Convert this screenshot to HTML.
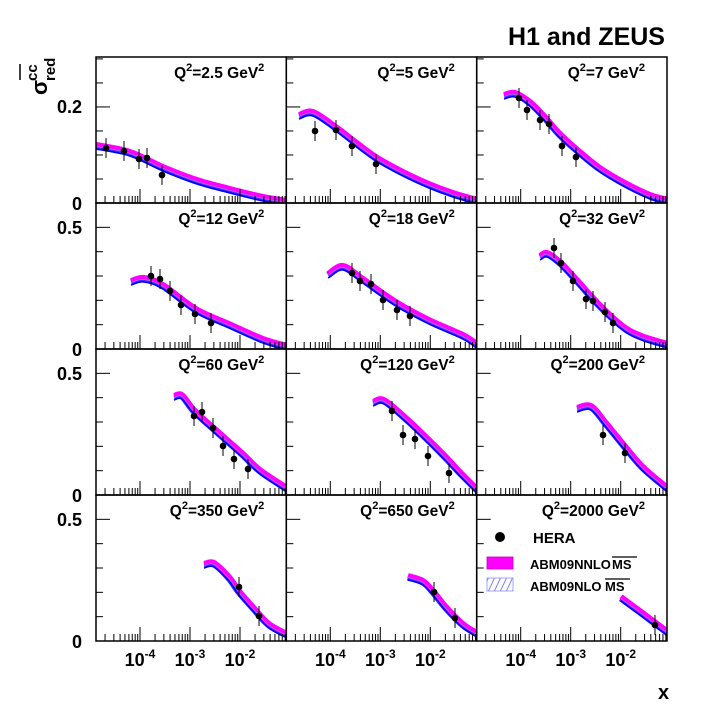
<!DOCTYPE html>
<html><head><meta charset="utf-8"><style>
body{margin:0;background:#fff}
svg text{font-family:"Liberation Sans",sans-serif;font-weight:bold}
</style></head><body>
<svg id="s" width="709" height="709" xmlns="http://www.w3.org/2000/svg">
<defs><pattern id="h" width="6" height="13" patternUnits="userSpaceOnUse" patternTransform="skewX(-25)"><line x1="2" y1="0" x2="2" y2="13" stroke="#5050ff" stroke-width="0.8"/></pattern></defs>
<g id="g"></g>
<text x="665" y="45" font-size="25" text-anchor="end">H1 and ZEUS</text>
<g transform="translate(47,95) rotate(-90)"><text font-size="22" x="0" y="0">σ</text><text font-size="15" x="14" y="-10">cc</text><line x1="15" y1="-27" x2="31" y2="-27" stroke="#000" stroke-width="1.5"/><text font-size="15" x="14" y="8">red</text></g>
<text x="658" y="699" font-size="20">x</text>
</svg>
<script>
const g=document.getElementById('g');let h='';
const X=[96,286.3,476.7,667],Y=[57,203,349,495,641];
const Q=['2.5','5','7','12','18','32','60','120','200','350','650','2000'];
const C=[
[[96,146],[130,153],[163,168],[197,181],[230,190],[263,198],[287,202]],
[[299,116],[313,113],[336,128],[353,141],[376,158],[403,173],[429,185],[453,194],[477,201]],
[[504,96],[515,94],[530,103],[545,118],[560,135],[580,153],[600,169],[625,184],[650,196],[668,201]],
[[131,282],[144,279],[163,286],[196,310],[229,325],[263,340],[287,347]],
[[328,275],[343,267],[363,280],[396,303],[429,321],[463,336],[477,345]],
[[540,257],[547,254],[560,263],[577,281],[594,300],[610,316],[627,330],[644,338],[668,345]],
[[174,397],[182,396],[194,411],[216,431],[242,454],[260,471],[287,489]],
[[373,403],[384,401],[406,419],[424,436],[446,458],[460,473],[477,490]],
[[577,409],[591,407],[606,424],[624,446],[642,467],[664,486],[668,489]],
[[204,565],[214,564],[229,578],[239,592],[253,608],[269,625],[287,635]],
[[408,577],[423,582],[433,592],[446,608],[463,625],[477,634]],
[[621,598],[640,612],[668,633]]];
const P=[
[[106,148],[124,151],[139,159],[147,158],[162,175]],
[[315,131],[336,130],[352,146],[376,164]],
[[519,98],[527,110],[540,120],[549,124],[562,146],[576,157]],
[[151,276],[160,279],[170,291],[181,305],[195,314],[211,323]],
[[352,273],[360,281],[371,284],[383,300],[397,310],[410,316]],
[[554,248],[561,263],[573,281],[586,299],[593,301],[605,312],[613,323]],
[[194,416],[202,412],[213,428],[223,446],[234,459],[248,469]],
[[392,411],[403,435],[415,439],[428,456],[449,473]],
[[603,435],[625,453]],[[239,587],[259,616]],[[434,592],[455,618]],[[655,625]]];
function path(a,d){let s=`M${a[0][0]},${a[0][1]+d}`;for(let i=0;i<a.length-1;i++){const p0=a[Math.max(i-1,0)],p1=a[i],p2=a[i+1],p3=a[Math.min(i+2,a.length-1)];
const c1x=p1[0]+(p2[0]-p0[0])/6,c1y=p1[1]+(p2[1]-p0[1])/6+d,c2x=p2[0]-(p3[0]-p1[0])/6,c2y=p2[1]-(p3[1]-p1[1])/6+d;s+=` C${c1x},${c1y} ${c2x},${c2y} ${p2[0]},${p2[1]+d}`;}return s;}
for(let r=0;r<4;r++)for(let c=0;c<3;c++){
 const i=r*3+c,x0=X[c],x1=X[c+1],y0=Y[r],y1=Y[r+1];
 h+=`<svg x="${x0}" y="${y0}" width="${x1-x0}" height="${y1-y0}" viewBox="${x0} ${y0} ${x1-x0} ${y1-y0}">`;
 h+=`<path d="${path(C[i],0)}" fill="none" stroke="#3030ff" stroke-width="7"/>`;
 h+=`<path d="${path(C[i],-1.5)}" fill="none" stroke="#ff00ff" stroke-width="5"/>`;
 h+=`<path d="${path(C[i],3)}" fill="none" stroke="#0000ff" stroke-width="1.5"/>`;
 h+=`<path d="${path(C[i],0.5)}" fill="none" stroke="#8080ff" stroke-width="0.7"/>`;
 h+='</svg>';
 for(const p of P[i]){h+=`<line x1="${p[0]}" y1="${p[1]-10}" x2="${p[0]}" y2="${p[1]+10}" stroke="#000" stroke-width="1"/><circle cx="${p[0]}" cy="${p[1]}" r="3.3"/>`;}
 h+=`<rect x="${x0}" y="${y0}" width="${x1-x0}" height="${y1-y0}" fill="none" stroke="#000" stroke-width="1.5"/>`;
 const H=y1-y0, scale=r==0?0.304:0.6, step=r==0?0.05:0.1;
 for(let v=step;v<scale-0.001;v+=step){const y=y1-v/scale*H;const maj=r==0?Math.abs(v-0.2)<1e-6:Math.abs(v-0.5)<1e-6;h+=`<line x1="${x0}" y1="${y}" x2="${x0+(maj?14:7)}" y2="${y}" stroke="#000"/>`;}
 for(let e=-5;e<=-1;e++)for(let m=1;m<10;m++){const xx=x0+(e+Math.log10(m)+4.88)*50;if(xx<=x0+1||xx>=x1-1)continue;h+=`<line x1="${xx}" y1="${y1}" x2="${xx}" y2="${y1-(m==1?14:7)}" stroke="#000"/>`;}
 h+=`<text x="${x1-22}" y="${y0+21}" font-size="15.5" text-anchor="end">Q<tspan dy="-7" font-size="11">2</tspan><tspan dy="7">=${Q[i]} GeV</tspan><tspan dy="-7" font-size="11">2</tspan></text>`;
}
h+=`<text x="82" y="113" font-size="18" text-anchor="end">0.2</text>`;
for(let r=0;r<4;r++){h+=`<text x="82" y="${Y[r+1]+7}" font-size="18" text-anchor="end">0</text>`;if(r>0)h+=`<text x="82" y="${Y[r+1]-122+7}" font-size="18" text-anchor="end">0.5</text>`;}
for(let c=0;c<3;c++)for(const e of [-4,-3,-2]){const xx=X[c]+(e+4.88)*50;h+=`<text x="${xx}" y="666" font-size="18" text-anchor="middle">10<tspan dy="-8" font-size="12">${e}</tspan></text>`;}
h+=`<circle cx="500" cy="537" r="5"/><text x="533" y="543" font-size="15">HERA</text>`;
h+=`<rect x="487" y="557" width="26" height="12" fill="#ff00ff" stroke="#c000c0" stroke-width="0.8"/><text x="530" y="569" font-size="13">ABM09NNLO</text><text x="612" y="569" font-size="13">MS</text><line x1="612" y1="557" x2="637" y2="557" stroke="#000" stroke-width="1.2"/>`;
h+=`<rect x="487" y="578" width="26" height="13" fill="url(#h)" stroke="#9090ff" stroke-width="0.8"/><text x="530" y="591" font-size="13">ABM09NLO</text><text x="605" y="591" font-size="13">MS</text><line x1="605" y1="579" x2="630" y2="579" stroke="#000" stroke-width="1.2"/>`;
g.innerHTML=h;
</script>
</body></html>
